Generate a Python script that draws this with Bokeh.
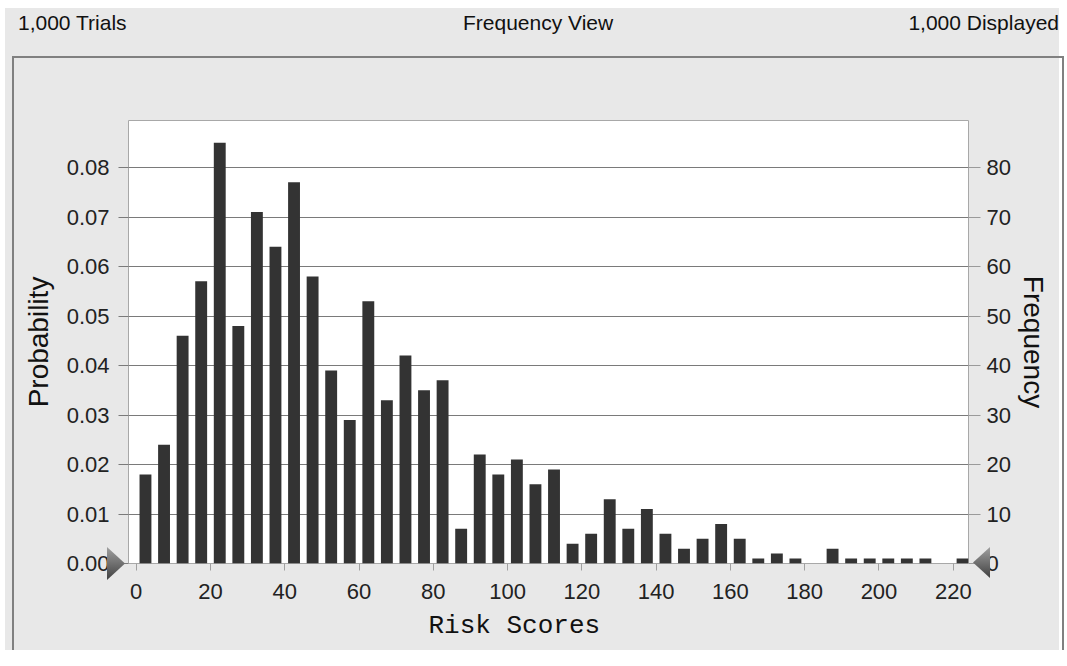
from bokeh.plotting import figure
from bokeh.models import (Range1d, LinearAxis, FixedTicker, PrintfTickFormatter, Div,
                          InlineStyleSheet, Title)
from bokeh.layouts import column
from bokeh.embed import file_html
from bokeh.resources import INLINE

# ---------------- data ----------------
trials = 1000
bin_start = [0, 5, 10, 15, 20, 25, 30, 35, 40, 45, 50, 55, 60, 65, 70, 75, 80, 85, 90, 95,
             100, 105, 110, 115, 120, 125, 130, 135, 140, 145, 150, 155, 160, 165, 170, 175,
             180, 185, 190, 195, 200, 205, 210, 215, 220]
frequency = [18, 24, 46, 57, 85, 48, 71, 64, 77, 58, 39, 29, 53, 33, 42, 35, 37, 7, 22, 18,
             21, 16, 19, 4, 6, 13, 7, 11, 6, 3, 5, 8, 5, 1, 2, 1,
             0, 3, 1, 1, 1, 1, 1, 0, 1]
prob_ticks = [0.00, 0.01, 0.02, 0.03, 0.04, 0.05, 0.06, 0.07, 0.08]
freq_ticks = [0, 10, 20, 30, 40, 50, 60, 70, 80]
x_ticks = [0, 20, 40, 60, 80, 100, 120, 140, 160, 180, 200, 220]

header_left = "1,000 Trials"
header_center = "Frequency View"
header_right = "1,000 Displayed"
x_title = "Risk Scores"
y_title = "Probability"
y2_title = "Frequency"

bin_width = 5
centers = [b + bin_width / 2 for b in bin_start]
probability = [f / trials for f in frequency]

# ---------------- styling ----------------
BG = "#e8e8e8"
W, H = 1059, 650
HEAD_H = 57

# ---------------- header ----------------
header_css = InlineStyleSheet(css=f"""
:host {{ background: {BG}; }}
.hdr {{ position: relative; width: {W}px; height: {HEAD_H}px; background: {BG};
        font-family: 'Liberation Sans', sans-serif; font-size: 21px; color: #111111;
        line-height: 24px; }}
.hdr span {{ position: absolute; top: 11px; white-space: nowrap; }}
.hdr .l {{ left: 18px; }}
.hdr .c {{ left: 463px; }}
.hdr .r {{ right: 0px; }}
""")
header = Div(text=(f'<div class="hdr"><span class="l">{header_left}</span>'
                   f'<span class="c">{header_center}</span>'
                   f'<span class="r">{header_right}</span></div>'),
             width=W, height=HEAD_H, margin=(0, 0, 0, 0), stylesheets=[header_css])

# ---------------- figure ----------------
p = figure(width=W, height=H - HEAD_H, output_backend="svg", toolbar_location=None,
           x_range=Range1d(-2.07, 224.1), y_range=Range1d(0, 0.0895),
           min_border_left=128, min_border_right=91, min_border_top=63, min_border_bottom=87)
p.background_fill_color = "white"
p.border_fill_color = BG
p.outline_line_color = "#a8a8a8"
p.outline_line_width = 1

p.extra_y_ranges = {"freq": Range1d(0, 89.5)}

p.vbar(x=centers, top=probability, width=3.2, fill_color="#333333", line_color=None)

p.xaxis.ticker = FixedTicker(ticks=x_ticks)
p.yaxis.ticker = FixedTicker(ticks=prob_ticks)
p.yaxis.formatter = PrintfTickFormatter(format="%.2f")

right = LinearAxis(y_range_name="freq", ticker=FixedTicker(ticks=freq_ticks))
p.add_layout(right, "right")

for ax in [p.xaxis[0], p.yaxis[0], right]:
    ax.axis_line_color = None
    ax.minor_tick_line_color = None
    ax.major_tick_in = 0
    ax.major_label_text_font = "Liberation Sans"
    ax.major_label_text_font_size = "22px"
    ax.major_label_text_color = "#222222"
    ax.axis_label_text_font = "Liberation Sans"
    ax.axis_label_text_font_size = "28px"
    ax.axis_label_text_font_style = "normal"
    ax.axis_label_text_color = "#111111"

p.xaxis.major_tick_out = 7
p.xaxis.major_tick_line_color = "#a0a0a0"
p.xaxis.major_label_standoff = 13

# x-axis title, placed below the axis (left-aligned like the original)
p.add_layout(Title(text=x_title, align="left", offset=300, vertical_align="bottom", standoff=15,
                   text_font="Liberation Mono", text_font_size="26px",
                   text_font_style="normal", text_color="#111111"), "below")

p.yaxis[0].axis_label = y_title
p.yaxis[0].axis_label_standoff = 10
p.yaxis[0].major_tick_out = 10
p.yaxis[0].major_tick_line_color = "#7a7a7a"
p.yaxis[0].major_label_standoff = 9

right.axis_label = y2_title
right.axis_label_standoff = 4
right.major_tick_out = 12
right.major_tick_line_color = "#9a9a9a"
right.major_label_standoff = 6

p.xgrid.visible = False
p.ygrid.grid_line_color = "#7a7a7a"
p.ygrid.grid_line_width = 1

# zero markers (triangles) drawn over the plot edges
fig_css = InlineStyleSheet(css=f"""
:host {{ position: relative; }}
:host::before {{ content: ""; position: absolute; left: 107px; top: {547 - HEAD_H}px;
   width: 18px; height: 33px; z-index: 60; pointer-events: none;
   background: linear-gradient(to bottom, #a0a0a0, #404040);
   clip-path: polygon(0 0, 100% 50%, 0 100%); }}
:host::after {{ content: ""; position: absolute; left: 973px; top: {547 - HEAD_H}px;
   width: 17px; height: 31px; z-index: 60; pointer-events: none;
   background: linear-gradient(to bottom, #a0a0a0, #404040);
   clip-path: polygon(0 50%, 100% 0, 100% 100%); }}
""")
p.stylesheets = [fig_css]

# outer panel frame
col_css = InlineStyleSheet(css=f"""
:host {{ position: relative; background: {BG}; }}
:host::after {{ content: ""; position: absolute; left: 12px; top: {HEAD_H - 1}px;
   width: 1052px; height: {H - HEAD_H + 1}px; box-sizing: border-box;
   border: 2px solid #808080; border-bottom: none; z-index: 50; pointer-events: none; }}
:host::before {{ content: ""; position: absolute; left: 0; top: 0; width: {W}px; height: {H}px;
   box-sizing: border-box; border-left: 5px solid #ffffff; border-top: 8px solid #ffffff;
   z-index: 55; pointer-events: none; }}
""")
layout = column(header, p, spacing=0, stylesheets=[col_css])

open("out.html", "w").write(file_html(layout, INLINE))
